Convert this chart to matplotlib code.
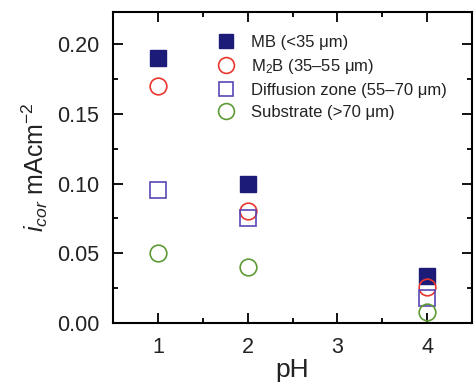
import matplotlib
matplotlib.use("Agg")
import matplotlib.pyplot as plt
from matplotlib.ticker import MultipleLocator, FormatStrFormatter

plt.rcParams['font.family'] = ['Liberation Sans', 'DejaVu Sans']
plt.rcParams['mathtext.fontset'] = 'custom'
plt.rcParams['mathtext.rm'] = 'Liberation Sans'
plt.rcParams['mathtext.it'] = 'Liberation Sans:italic'

ph = [1, 2, 4]
mb = [0.19, 0.10, 0.034]
m2b = [0.17, 0.080, 0.026]
diffusion = [0.095, 0.075, 0.018]
substrate = [0.050, 0.040, 0.008]
labels = ['MB (<35 μm)', 'M$_2$B (35–55 μm)', 'Diffusion zone (55–70 μm)', 'Substrate (>70 μm)']

fig = plt.figure(figsize=(4.75, 3.85), dpi=100)
ax = fig.add_axes([0.238, 0.161, 0.756, 0.808])

ax.plot(ph, mb, 's', ms=11, color='#1c1c78', mec='#1c1c78', label=labels[0], ls='none')
ax.plot(ph, m2b, 'o', ms=12, mfc='none', mec='#e8372f', mew=1.2, label=labels[1], ls='none')
ax.plot(ph, diffusion, 's', ms=11, mfc='none', mec='#5b45b5', mew=1.2, label=labels[2], ls='none')
ax.plot(ph, substrate, 'o', ms=12, mfc='none', mec='#5e9a35', mew=1.2, label=labels[3], ls='none')

ax.set_xlim(0.5, 4.5)
ax.set_ylim(0, 0.223)
ax.xaxis.set_major_locator(MultipleLocator(1))
ax.xaxis.set_minor_locator(MultipleLocator(0.5))
ax.yaxis.set_major_locator(MultipleLocator(0.05))
ax.yaxis.set_minor_locator(MultipleLocator(0.025))
ax.yaxis.set_major_formatter(FormatStrFormatter('%.2f'))
ax.tick_params(which='both', direction='in', top=True, right=True, labelsize=15.5, width=1.3,
               labelcolor='#222222')
ax.tick_params(which='major', length=7, pad=10)
ax.tick_params(which='minor', length=3.5)
for s in ax.spines.values():
    s.set_linewidth(1.5)

ax.set_xlabel('pH', fontsize=19, labelpad=0, color='#222222')
ax.set_ylabel(r'$\mathit{i}_{cor}$ mAcm$^{-2}$', fontsize=18, labelpad=5, color='#222222')

leg = ax.legend(loc='upper left', bbox_to_anchor=(0.292, 0.925), frameon=False,
                fontsize=12, markerscale=0.95, handlelength=1.0, handletextpad=1.0,
                labelspacing=0.42, borderaxespad=0, borderpad=0)
for t in leg.get_texts():
    t.set_color('#222222')

fig.savefig('out.png', dpi=100)
